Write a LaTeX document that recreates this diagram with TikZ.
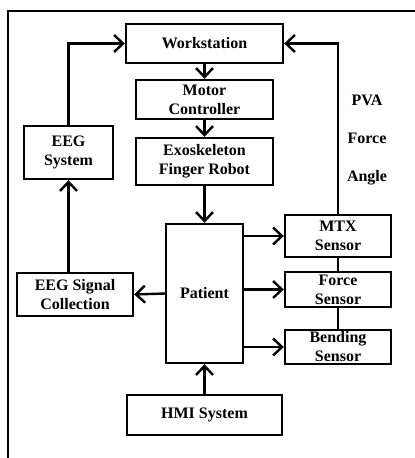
\documentclass[tikz,border=0pt]{standalone}
\usepackage{fontspec}
\setmainfont{Liberation Serif}
\usetikzlibrary{arrows.meta}
\newcommand{\drawSensor}[4]{
  \node[box, minimum width=106pt, minimum height=#3] (#1) at (338,#2) {#4};
  \draw[->] (#1.west -| Pat.east) -- (#1.west);
}

\begin{document}
\begin{tikzpicture}[line width=2.4pt, x=1pt, y=-1pt,
  box/.style={draw, align=center, inner sep=0pt, font=\bfseries\fontsize{16}{19}\selectfont},
  lbl/.style={font=\bfseries\fontsize{16}{19}\selectfont},
  >={Straight Barb[length=9pt, width=17pt]}]
  \useasboundingbox (0,0) rectangle (415,458);
  % Frame
  \draw (8,458) -- (8,11) -- (415,11);
  % Nodes
  \node[box, minimum width=157pt, minimum height=39pt] (Work) at (204.5,43.5) {Workstation};
  \node[box, minimum width=137pt, minimum height=39pt] (Motor) at (204.5,99.5) {Motor\\Controller};
  \node[box, minimum width=137pt, minimum height=47pt] (Exo) at (204.5,161.5) {Exoskeleton\\Finger Robot};
  \node[box, minimum width=77pt, minimum height=139pt] (Pat) at (204.5,293.5) {Patient};
  \node[box, minimum width=155pt, minimum height=40pt] (HMI) at (204.5,415) {HMI System};
  \node[box, minimum width=89pt, minimum height=53pt] (EEG) at (68.5,152.5) {EEG\\System};
  \node[box, minimum width=116pt, minimum height=43pt] (Sig) at (75,294.5) {EEG Signal\\Collection};
  \node[lbl] (PVA) at (367,100) {PVA};
  \node[lbl] (ForceLbl) at (367,138) {Force};
  \node[lbl] (Angle) at (367,178) {Angle};

  % Sensors
  \drawSensor{MTX}{236}{42pt}{MTX\\Sensor}
  \drawSensor{Force}{289.5}{35pt}{Force\\Sensor}
  \drawSensor{Bend}{347}{34pt}{Bending\\Sensor}
  \draw (MTX.south) -- (Force.north);
  \draw (Force.south) -- (Bend.north);

  % Links
  \draw[->] (Work) -- (Motor);
  \draw[->] (Motor) -- (Exo);
  \draw[->] (Exo) -- (Pat);
  \draw[->] (HMI) -- (Pat);
  \draw[->] (Pat.west) -- (Sig.east);
  \draw[->] (Sig.north -| EEG.south) -- (EEG.south);
  \draw[->] (EEG.north) |- (Work.west);
  \draw[->] (MTX.north) |- (Work.east);
\end{tikzpicture}
\end{document}
